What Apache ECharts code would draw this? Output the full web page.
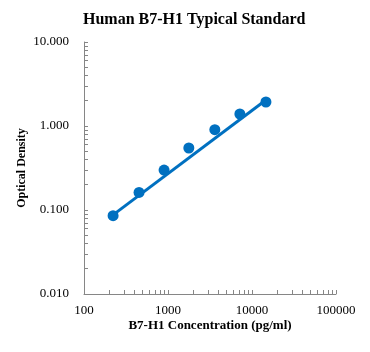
<!DOCTYPE html>
<html>
<head>
<meta charset="utf-8">
<script src="https://cdn.jsdelivr.net/npm/echarts@6/dist/echarts.min.js"></script>
<style>html,body{margin:0;padding:0;background:#fff}#c{width:370px;height:352px}</style>
</head>
<body>
<div id="c"></div>
<script>
const concentrations = [222, 452, 898, 1770, 3610, 7170, 14650];
const odValues = [0.0855, 0.162, 0.299, 0.547, 0.904, 1.39, 1.93];
const trendX = [222, 14650];
const trendY = [0.0875, 2.04];
const xTickLabels = [100, 1000, 10000, 100000];
const yTickLabels = [0.01, 0.1, 1, 10];

function logTicks(majors) {
  const out = [];
  for (let i = 0; i < majors.length; i++) {
    out.push(majors[i]);
    if (i < majors.length - 1) {
      for (let k = 2; k <= 9; k++) out.push(+(majors[i] * k).toPrecision(6));
    }
  }
  return out;
}

const font = '"Liberation Serif", "Times New Roman", serif';
const axisColor = '#868686';
const blue = '#0070C0';

const chart = echarts.init(document.getElementById('c'));
chart.setOption({
  animation: false,
  title: {
    text: 'Human B7-H1 Typical Standard',
    left: 78, top: 7,
    textStyle: { fontFamily: font, fontSize: 16, fontWeight: 'bold', color: '#000' }
  },
  grid: { left: 84, right: 34, top: 42, bottom: 58, containLabel: false },
  xAxis: {
    type: 'log', logBase: 10, min: 100, max: 100000,
    name: 'B7-H1 Concentration (pg/ml)', nameLocation: 'middle', nameGap: 25,
    nameMoveOverlap: false,
    nameTextStyle: { fontFamily: font, fontSize: 13, fontWeight: 'bold', color: '#000' },
    axisLine: { show: true, lineStyle: { color: axisColor, width: 1 } },
    axisTick: { show: true, inside: true, length: 4, customValues: logTicks(xTickLabels), lineStyle: { color: axisColor } },
    axisLabel: { customValues: xTickLabels, fontFamily: font, fontSize: 13, color: '#000', margin: 10,
      formatter: v => String(Math.round(v)) },
    splitLine: { show: false }
  },
  yAxis: {
    type: 'log', logBase: 10, min: 0.01, max: 10,
    name: 'Optical Density', nameLocation: 'middle', nameGap: 56,
    nameMoveOverlap: false,
    nameTextStyle: { fontFamily: font, fontSize: 12, fontWeight: 'bold', color: '#000' },
    axisLine: { show: true, lineStyle: { color: axisColor, width: 1 } },
    axisTick: { show: true, inside: true, length: 4, customValues: logTicks(yTickLabels), lineStyle: { color: axisColor } },
    axisLabel: { customValues: yTickLabels, fontFamily: font, fontSize: 13, color: '#000', margin: 15,
      formatter: v => Number(v).toFixed(3) },
    splitLine: { show: false }
  },
  series: [
    {
      type: 'line',
      data: trendX.map((x, i) => [x, trendY[i]]),
      showSymbol: false, symbol: 'none',
      lineStyle: { color: blue, width: 3 },
      z: 2
    },
    {
      type: 'scatter',
      data: concentrations.map((x, i) => [x, odValues[i]]),
      symbol: 'circle', symbolSize: 11,
      itemStyle: { color: blue, opacity: 1 },
      z: 3
    }
  ]
});
</script>
</body>
</html>
